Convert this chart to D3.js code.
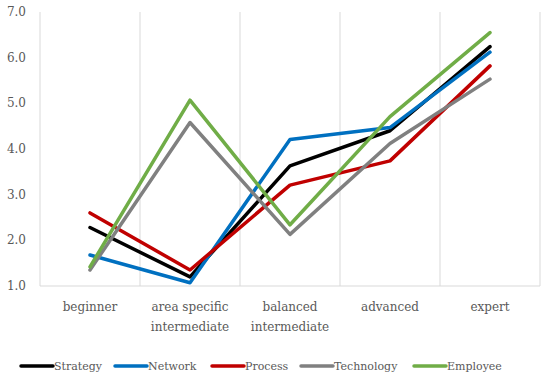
<!DOCTYPE html>
<html>
<head>
<meta charset="utf-8">
<script src="https://cdn.jsdelivr.net/npm/d3@7"></script>
<style>
  body { margin: 0; background: #fff; }
  text { font-family: "DejaVu Serif", serif; fill: #595959; }
</style>
</head>
<body>
<script>
const categories = [["beginner"], ["area specific", "intermediate"], ["balanced", "intermediate"], ["advanced"], ["expert"]];
const seriesNames = ["Strategy", "Network", "Process", "Technology", "Employee"];
const seriesColors = ["#000000", "#0070C0", "#C00000", "#808080", "#70AD47"];

const strategy = [2.28, 1.2, 3.63, 4.4, 6.24];
const network = [1.68, 1.07, 4.21, 4.47, 6.12];
const processVals = [2.6, 1.35, 3.21, 3.74, 5.82];
const technology = [1.35, 4.58, 2.13, 4.12, 5.53];
const employee = [1.42, 5.07, 2.34, 4.71, 6.55];

const yTicks = [1, 2, 3, 4, 5, 6, 7];

const allSeries = [strategy, network, processVals, technology, employee];

const width = 550, height = 380;
const svg = d3.select("body").append("svg")
  .attr("width", width)
  .attr("height", height);

const catKeys = categories.map(c => c.join(" "));

const x = d3.scaleBand()
  .domain(catKeys)
  .range([40, 540]);

const y = d3.scaleLinear()
  .domain([1, 7])
  .range([286, 12]);

// vertical gridlines at category boundaries
const edges = catKeys.map(k => x(k)).concat([x.range()[1]]);
svg.selectAll("line.grid")
  .data(edges)
  .enter()
  .append("line")
  .attr("x1", d => d)
  .attr("x2", d => d)
  .attr("y1", y(7))
  .attr("y2", y(1))
  .style("stroke", "#d9d9d9")
  .style("stroke-width", 1);

// bottom axis line
svg.append("line")
  .attr("x1", 40)
  .attr("x2", 540)
  .attr("y1", y(1))
  .attr("y2", y(1))
  .style("stroke", "#d9d9d9")
  .style("stroke-width", 1);

// y labels
svg.selectAll("text.ytick")
  .data(yTicks)
  .enter()
  .append("text")
  .attr("x", 26)
  .attr("y", d => y(d) + 4)
  .attr("text-anchor", "end")
  .style("font-size", "12px")
  .text(d => d.toFixed(1));

// x labels
categories.forEach((lines, i) => {
  const t = svg.append("text")
    .attr("text-anchor", "middle")
    .style("font-size", "12px");
  lines.forEach((l, j) => {
    t.append("tspan")
      .attr("x", x(catKeys[i]) + x.bandwidth() / 2)
      .attr("y", 311 + j * 20)
      .text(l);
  });
});

// lines
const line = d3.line()
  .x((d, i) => x(catKeys[i]) + x.bandwidth() / 2)
  .y(d => y(d));

allSeries.forEach((s, i) => {
  svg.append("path")
    .datum(s)
    .attr("d", line)
    .style("fill", "none")
    .style("stroke", seriesColors[i])
    .style("stroke-width", 3.5)
    .style("stroke-linejoin", "round")
    .style("stroke-linecap", "round");
});

// legend
const legendX = [21, 115, 212, 301, 414];
seriesNames.forEach((name, i) => {
  const g = svg.append("g").attr("transform", `translate(${legendX[i]},366)`);
  g.append("line")
    .attr("x1", 0).attr("x2", 32)
    .attr("y1", 0).attr("y2", 0)
    .style("stroke", seriesColors[i])
    .style("stroke-width", 3.5)
    .style("stroke-linecap", "round");
  g.append("text")
    .attr("x", 33)
    .attr("y", 4)
    .style("font-size", "11px")
    .text(name);
});
</script>
</body>
</html>
